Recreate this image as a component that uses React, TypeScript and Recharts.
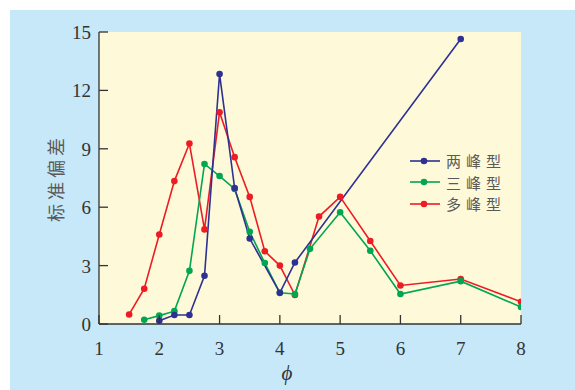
import React from "react";
import {
  LineChart,
  Line,
  XAxis,
  YAxis,
  CartesianGrid,
} from "recharts";

// 两峰型
const twoPeakX = [2, 2.25, 2.5, 2.75, 3, 3.25, 3.5, 4, 4.25, 7];
const twoPeakY = [0.17, 0.46, 0.46, 2.48, 12.84, 6.98, 4.39, 1.6, 3.16, 14.64];

// 三峰型
const threePeakX = [1.75, 2, 2.25, 2.5, 2.75, 3, 3.25, 3.5, 3.75, 4, 4.25, 4.5, 5, 5.5, 6, 7, 8];
const threePeakY = [0.22, 0.43, 0.66, 2.73, 8.22, 7.6, 6.94, 4.74, 3.13, 1.6, 1.54, 3.86, 5.74, 3.76, 1.54, 2.2, 0.87];

// 多峰型
const multiPeakX = [1.5, 1.75, 2, 2.25, 2.5, 2.75, 3, 3.25, 3.5, 3.75, 4, 4.25, 4.65, 5, 5.5, 6, 7, 8];
const multiPeakY = [0.49, 1.81, 4.6, 7.34, 9.27, 4.86, 10.88, 8.57, 6.53, 3.74, 3.0, 1.49, 5.52, 6.53, 4.26, 1.98, 2.31, 1.14];

const xTicks = [1, 2, 3, 4, 5, 6, 7, 8];
const yTicks = [0, 3, 6, 9, 12, 15];

const seriesNames = ["两峰型", "三峰型", "多峰型"];

const BLUE = "#2e3192";
const GREEN = "#00a651";
const RED = "#ed1c24";
const AXIS = "#333333";
const PANEL = "#c6e8f8";
const PLOT_BG = "#fefad9";
const SERIF = "'Liberation Serif', 'Times New Roman', serif";
const CJK = "'Noto Sans CJK SC', sans-serif";

const toPoints = (xs: number[], ys: number[]) => xs.map((x, i) => ({ x, y: ys[i] }));

const twoPeak = toPoints(twoPeakX, twoPeakY);
const threePeak = toPoints(threePeakX, threePeakY);
const multiPeak = toPoints(multiPeakX, multiPeakY);

const legendItems = [
  { name: seriesNames[0], color: BLUE },
  { name: seriesNames[1], color: GREEN },
  { name: seriesNames[2], color: RED },
];

function XTick(props: any) {
  const { x, y, payload } = props;
  return (
    <g>
      <line x1={x} y1={y} x2={x} y2={y - 9} stroke={AXIS} strokeWidth={1.3} />
      <text x={x} y={y + 31} textAnchor="middle" fontFamily={SERIF} fontSize={19} fill={AXIS}>
        {payload.value}
      </text>
    </g>
  );
}

function YTick(props: any) {
  const { x, y, payload } = props;
  return (
    <g>
      <line x1={x} y1={y} x2={x + 9} y2={y} stroke={AXIS} strokeWidth={1.3} />
      <text x={x - 8} y={y + 7} textAnchor="end" fontFamily={SERIF} fontSize={19} fill={AXIS}>
        {payload.value}
      </text>
    </g>
  );
}

function LegendBox() {
  return (
    <div style={{ position: "absolute", left: 410, top: 150 }}>
      {legendItems.map((item) => (
        <div key={item.name} style={{ display: "flex", alignItems: "center", height: 21.5 }}>
          <svg width={30} height={10}>
            <line x1={0} y1={5} x2={30} y2={5} stroke={item.color} strokeWidth={1.6} />
            <circle cx={14} cy={5} r={3.3} fill={item.color} />
          </svg>
          <span
            style={{
              marginLeft: 6,
              fontFamily: CJK,
              fontSize: 15,
              letterSpacing: 5,
              color: "#5a5a5a",
              lineHeight: "21px",
            }}
          >
            {item.name}
          </span>
        </div>
      ))}
    </div>
  );
}

export default function App() {
  const dot = (color: string) => ({ r: 3.3, fill: color, stroke: color, strokeWidth: 0 });
  return (
    <div style={{ position: "absolute", left: 0, top: 0, width: 575, height: 390, background: "#ffffff" }}>
      <div style={{ position: "absolute", left: 10, top: 10, width: 565, height: 380, background: PANEL }} />
      <div style={{ position: "absolute", left: 0, top: 0 }}>
        <LineChart width={575} height={390} margin={{ top: 32, right: 54, bottom: 26, left: 0 }}>
          <CartesianGrid fill={PLOT_BG} stroke="transparent" />
          <XAxis
            dataKey="x"
            type="number"
            domain={[1, 8]}
            ticks={xTicks}
            interval={0}
            height={40}
            tickSize={0}
            tickMargin={0}
            tickLine={false}
            axisLine={{ stroke: AXIS, strokeWidth: 1.3 }}
            tick={<XTick />}
            allowDataOverflow
            label={{
              content: (p: any) => {
                const vb = p.viewBox || {};
                return (
                  <text
                    x={vb.x + vb.width / 2 - 23}
                    y={vb.y + 56}
                    textAnchor="middle"
                    fontFamily={SERIF}
                    fontStyle="italic"
                    fontSize={21}
                    fill={AXIS}
                  >
                    ϕ
                  </text>
                );
              },
            }}
          />
          <YAxis
            type="number"
            domain={[0, 15]}
            ticks={yTicks}
            interval={0}
            width={99}
            tickSize={0}
            tickMargin={0}
            tickLine={false}
            axisLine={{ stroke: AXIS, strokeWidth: 1.3 }}
            tick={<YTick />}
            allowDataOverflow
            label={{
              content: (p: any) => {
                const vb = p.viewBox || {};
                const cx = 55;
                const cy = vb.y + vb.height / 2;
                return (
                  <text
                    x={cx}
                    y={cy}
                    transform={`rotate(-90 ${cx} ${cy})`}
                    textAnchor="middle"
                    dominantBaseline="central"
                    fontFamily={CJK}
                    fontSize={18}
                    letterSpacing={4}
                    fill="#5a5a5a"
                  >
                    标准偏差
                  </text>
                );
              },
            }}
          />
          <Line
            data={multiPeak}
            dataKey="y"
            name={seriesNames[2]}
            stroke={RED}
            strokeWidth={1.6}
            dot={dot(RED)}
            activeDot={false}
            isAnimationActive={false}
          />
          <Line
            data={threePeak}
            dataKey="y"
            name={seriesNames[1]}
            stroke={GREEN}
            strokeWidth={1.6}
            dot={dot(GREEN)}
            activeDot={false}
            isAnimationActive={false}
          />
          <Line
            data={twoPeak}
            dataKey="y"
            name={seriesNames[0]}
            stroke={BLUE}
            strokeWidth={1.6}
            dot={dot(BLUE)}
            activeDot={false}
            isAnimationActive={false}
          />
        </LineChart>
      </div>
      <LegendBox />
    </div>
  );
}
